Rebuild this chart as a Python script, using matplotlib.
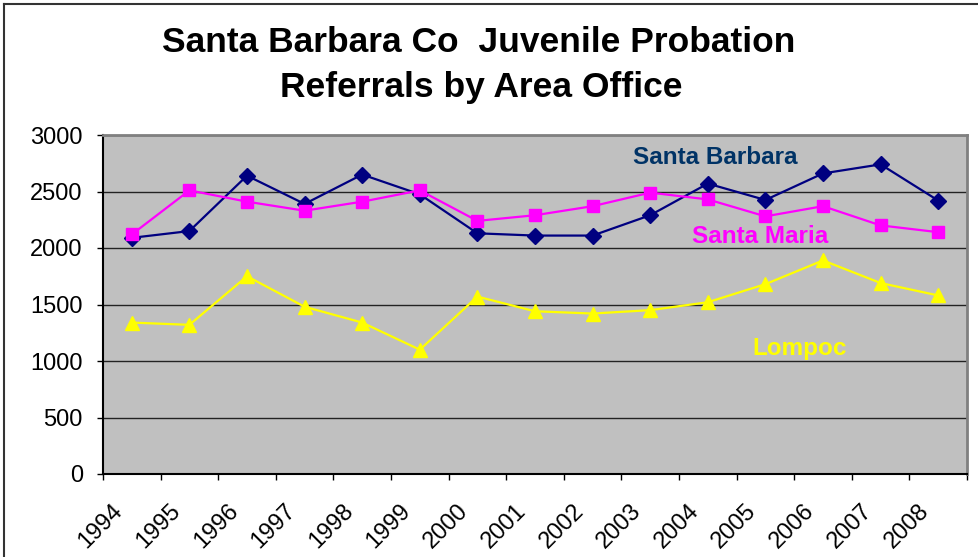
import matplotlib
matplotlib.use("Agg")
import matplotlib.pyplot as plt
from matplotlib.lines import Line2D
from matplotlib.transforms import ScaledTranslation

years = ["1994", "1995", "1996", "1997", "1998", "1999", "2000", "2001",
         "2002", "2003", "2004", "2005", "2006", "2007", "2008"]
santa_barbara = [2090, 2150, 2640, 2390, 2650, 2475, 2130, 2110, 2110, 2290,
                 2570, 2425, 2660, 2740, 2420]
santa_maria = [2120, 2510, 2410, 2330, 2410, 2510, 2240, 2290, 2370, 2490,
               2430, 2280, 2370, 2200, 2140]
lompoc = [1340, 1320, 1750, 1480, 1340, 1100, 1570, 1440, 1420, 1450,
          1520, 1680, 1890, 1690, 1580]
y_ticks = [0, 500, 1000, 1500, 2000, 2500, 3000]

plt.rcParams['font.family'] = ['Liberation Sans', 'DejaVu Sans']

fig = plt.figure(figsize=(9.79, 5.57), dpi=100)
ax = fig.add_axes([103/979, 1-474/557, (967-103)/979, (474-135)/557])
ax.set_facecolor('#C0C0C0')

x = [i + 0.5 for i in range(len(years))]
ax.plot(x, santa_barbara, color='#000080', lw=1.6, marker='D', ms=8.5, zorder=3)
ax.plot(x, santa_maria, color='#FF00FF', lw=1.6, marker='s', ms=9, zorder=4)
ax.plot(x, lompoc, color='#FFFF00', lw=1.6, marker='^', ms=10.5, zorder=3)

ax.set_xlim(0, len(years))
ax.set_ylim(0, 3000)
ax.set_yticks(y_ticks)
ax.set_yticklabels([str(v) for v in y_ticks], fontsize=17)
ax.set_xticks(range(len(years) + 1))
ax.set_xticklabels([])
ax.set_xticks(x, minor=True)
ax.set_xticklabels(years, minor=True, rotation=45, ha='right', va='top',
                   rotation_mode='anchor', fontsize=17)
ax.tick_params(axis='x', which='minor', length=0, pad=22)
ax.tick_params(axis='x', which='major', length=4.5, width=1, color='black')
ax.tick_params(axis='y', length=4.5, width=1, color='black', pad=10)
ax.grid(axis='y', color='#222222', lw=1)
ax.set_axisbelow(True)

offset = ScaledTranslation(-20/100, 5/100, fig.dpi_scale_trans)
for lab in ax.get_xticklabels(minor=True):
    lab.set_transform(lab.get_transform() + offset)

for s in ['top', 'right']:
    ax.spines[s].set_color('#808080')
    ax.spines[s].set_linewidth(2)
for s in ['left', 'bottom']:
    ax.spines[s].set_color('black')
    ax.spines[s].set_linewidth(1.5)

ax.text(10.63, 2805, "Santa Barbara", color='#003366', fontsize=17.5,
        fontweight='bold', ha='center', va='center')
ax.text(11.4, 2106, "Santa Maria", color='#FF00FF', fontsize=17.5,
        fontweight='bold', ha='center', va='center')
ax.text(12.1, 1115, "Lompoc", color='#FFFF00', fontsize=17.5,
        fontweight='bold', ha='center', va='center')

fig.text(479/979, 1-42/557, "Santa Barbara Co  Juvenile Probation",
         fontsize=25.5, fontweight='bold', ha='center', va='center')
fig.text(481/979, 1-87/557, "Referrals by Area Office",
         fontsize=25.5, fontweight='bold', ha='center', va='center')

fig.add_artist(Line2D([4/979, 4/979], [0, 1-4/557], color='#333333', lw=1.5,
                      transform=fig.transFigure))
fig.add_artist(Line2D([4/979, 1], [1-4/557, 1-4/557], color='#333333', lw=1.5,
                      transform=fig.transFigure))

fig.savefig("out.png", dpi=100)
